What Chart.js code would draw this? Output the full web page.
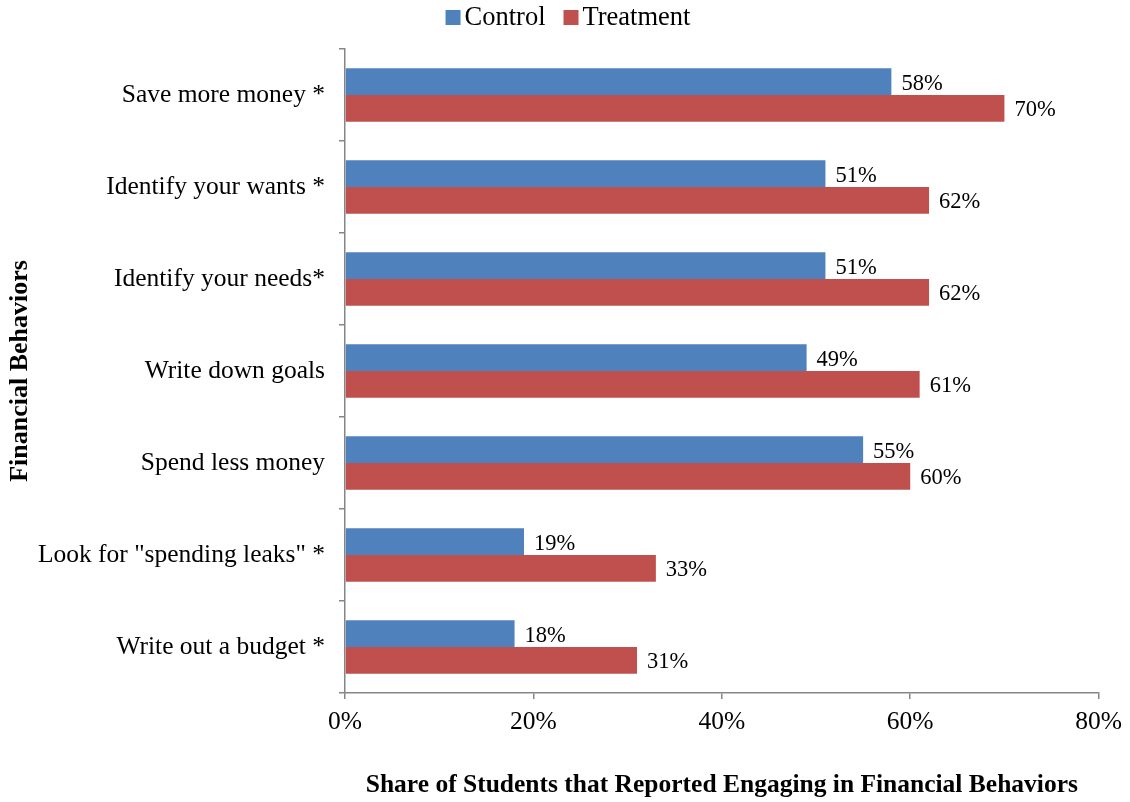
<!DOCTYPE html>
<html>
<head>
<meta charset="utf-8">
<script src="https://cdn.jsdelivr.net/npm/chart.js@4.4.0/dist/chart.umd.min.js"></script>
<style>
  body { margin: 0; background: #fff; }
  #wrap { width: 1130px; height: 802px; }
</style>
</head>
<body>
<div id="wrap"><canvas id="behaviorChart" width="1130" height="802"></canvas></div>
<script>
// data
const behaviors = [
  'Save more money *',
  'Identify your wants *',
  'Identify your needs*',
  'Write down goals',
  'Spend less money',
  'Look for "spending leaks" *',
  'Write out a budget *'
];
const controlValues = [58, 51, 51, 49, 55, 19, 18];
const treatmentValues = [70, 62, 62, 61, 60, 33, 31];
const xTicks = [0, 20, 40, 60, 80];

const serif = '"Liberation Serif", "Times New Roman", serif';
const axisGray = '#868686';

// writes the % next to the end of each bar
const barLabels = {
  id: 'barLabels',
  afterDatasetsDraw(chart) {
    const ctx = chart.ctx;
    ctx.save();
    ctx.font = '22.5px ' + serif;
    ctx.fillStyle = '#000';
    ctx.textBaseline = 'middle';
    ctx.textAlign = 'left';
    chart.data.datasets.forEach((ds, i) => {
      chart.getDatasetMeta(i).data.forEach((bar, j) => {
        ctx.fillText(ds.data[j] + '%', bar.x + 10, bar.y + 2);
      });
    });
    ctx.restore();
  }
};

// legend on top, drawn by hand so box/text gaps match the original
const topLegend = {
  id: 'topLegend',
  afterDraw(chart) {
    const ctx = chart.ctx;
    const box = 15, boxGap = 4, itemGap = 18, cy = 17.5;
    ctx.save();
    ctx.font = '26.5px ' + serif;
    ctx.textBaseline = 'middle';
    ctx.textAlign = 'left';
    const items = chart.data.datasets.map(ds => ({
      text: ds.label,
      color: ds.backgroundColor,
      w: box + boxGap + ctx.measureText(ds.label).width
    }));
    let total = items.reduce((s, it) => s + it.w, 0) + itemGap * (items.length - 1);
    let x = chart.width / 2 + 3 - total / 2;
    items.forEach(it => {
      ctx.fillStyle = it.color;
      ctx.fillRect(x, cy - box / 2, box, box);
      ctx.fillStyle = '#000';
      ctx.fillText(it.text, x + box + boxGap, cy + 1);
      x += it.w + itemGap;
    });
    ctx.restore();
  }
};

new Chart(document.getElementById('behaviorChart'), {
  type: 'bar',
  data: {
    labels: behaviors,
    datasets: [
      { label: 'Control', data: controlValues, backgroundColor: '#4F81BD', categoryPercentage: 0.58, barPercentage: 1 },
      { label: 'Treatment', data: treatmentValues, backgroundColor: '#C0504D', categoryPercentage: 0.58, barPercentage: 1 }
    ]
  },
  options: {
    indexAxis: 'y',
    responsive: false,
    animation: false,
    layout: { padding: { top: 49, right: 30, left: 0, bottom: 0 } },
    plugins: {
      legend: { display: false },
      tooltip: { enabled: false }
    },
    scales: {
      x: {
        min: 0,
        max: 80,
        afterBuildTicks(scale) {
          scale.ticks = xTicks.map(v => ({ value: v }));
        },
        afterFit(scale) { scale.height = 109; },
        grid: { drawOnChartArea: false, drawTicks: true, tickLength: 6, color: axisGray, lineWidth: 1.5 },
        border: { color: axisGray, width: 1.5 },
        ticks: {
          callback: v => v + '%',
          font: { family: serif, size: 25.5 },
          color: '#000',
          padding: 8
        },
        title: {
          display: true,
          text: 'Share of Students that Reported Engaging in Financial Behaviors',
          font: { family: serif, size: 25.5, weight: 'bold' },
          color: '#000',
          padding: { top: 20, bottom: 1 }
        }
      },
      y: {
        afterFit(scale) { scale.width = 345; },
        grid: { drawOnChartArea: false, drawTicks: true, tickLength: 6, color: axisGray, lineWidth: 1.5 },
        border: { color: axisGray, width: 1.5 },
        ticks: {
          font: { family: serif, size: 25.5 },
          color: '#000',
          padding: 14
        },
        title: {
          display: true,
          text: 'Financial Behaviors',
          font: { family: serif, size: 26, weight: 'bold' },
          color: '#000',
          padding: { top: 5, bottom: 0 }
        }
      }
    }
  },
  plugins: [barLabels, topLegend]
});
</script>
</body>
</html>
